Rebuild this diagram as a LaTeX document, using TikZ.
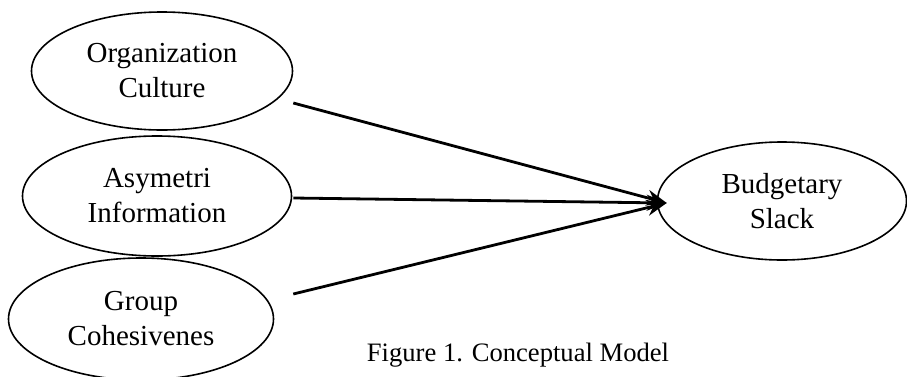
\documentclass[tikz,border=0pt]{standalone}
\usepackage{fontspec}
\setmainfont{Liberation Serif}
\usetikzlibrary{arrows.meta,calc,shapes.geometric}

\begin{document}
\begin{tikzpicture}[x=0.5pt, y=-0.5pt, line join=round,
    var/.style={ellipse, draw, line width=0.8pt, inner sep=0pt, align=center,
        font=\fontsize{14.5}{17.5}\selectfont},
    link/.style={line width=1.4pt, -{Stealth[length=10pt, width=8pt]}}]
    \useasboundingbox (0,0) rectangle (907,376);

    \node[var, minimum width=130.5pt, minimum height=59pt] (org) at (162,71) {Organization\\Culture};
    \node[var, minimum width=134.5pt, minimum height=60pt] (asym) at (157,196) {Asymetri\\Information};
    \node[var, minimum width=132.5pt, minimum height=61pt] (group) at (141,319) {Group\\Cohesivenes};
    \node[var, minimum width=124.5pt, minimum height=59pt] (budget) at (782,201) {Budgetary\\Slack};

    \coordinate (tip) at ($(budget.west)+(10,2)$);
    \draw[link] ($(org.east)+(0,32)$) -- (tip);
    \draw[link] ($(asym.east)+(1,2)$) -- (tip);
    \draw[link] ($(group.east)+(19,-25)$) -- (tip);

    \node[font=\fontsize{13.3}{16}\selectfont, anchor=base] (cap) at (518,361) {Figure 1. Conceptual Model};
\end{tikzpicture}
\end{document}
